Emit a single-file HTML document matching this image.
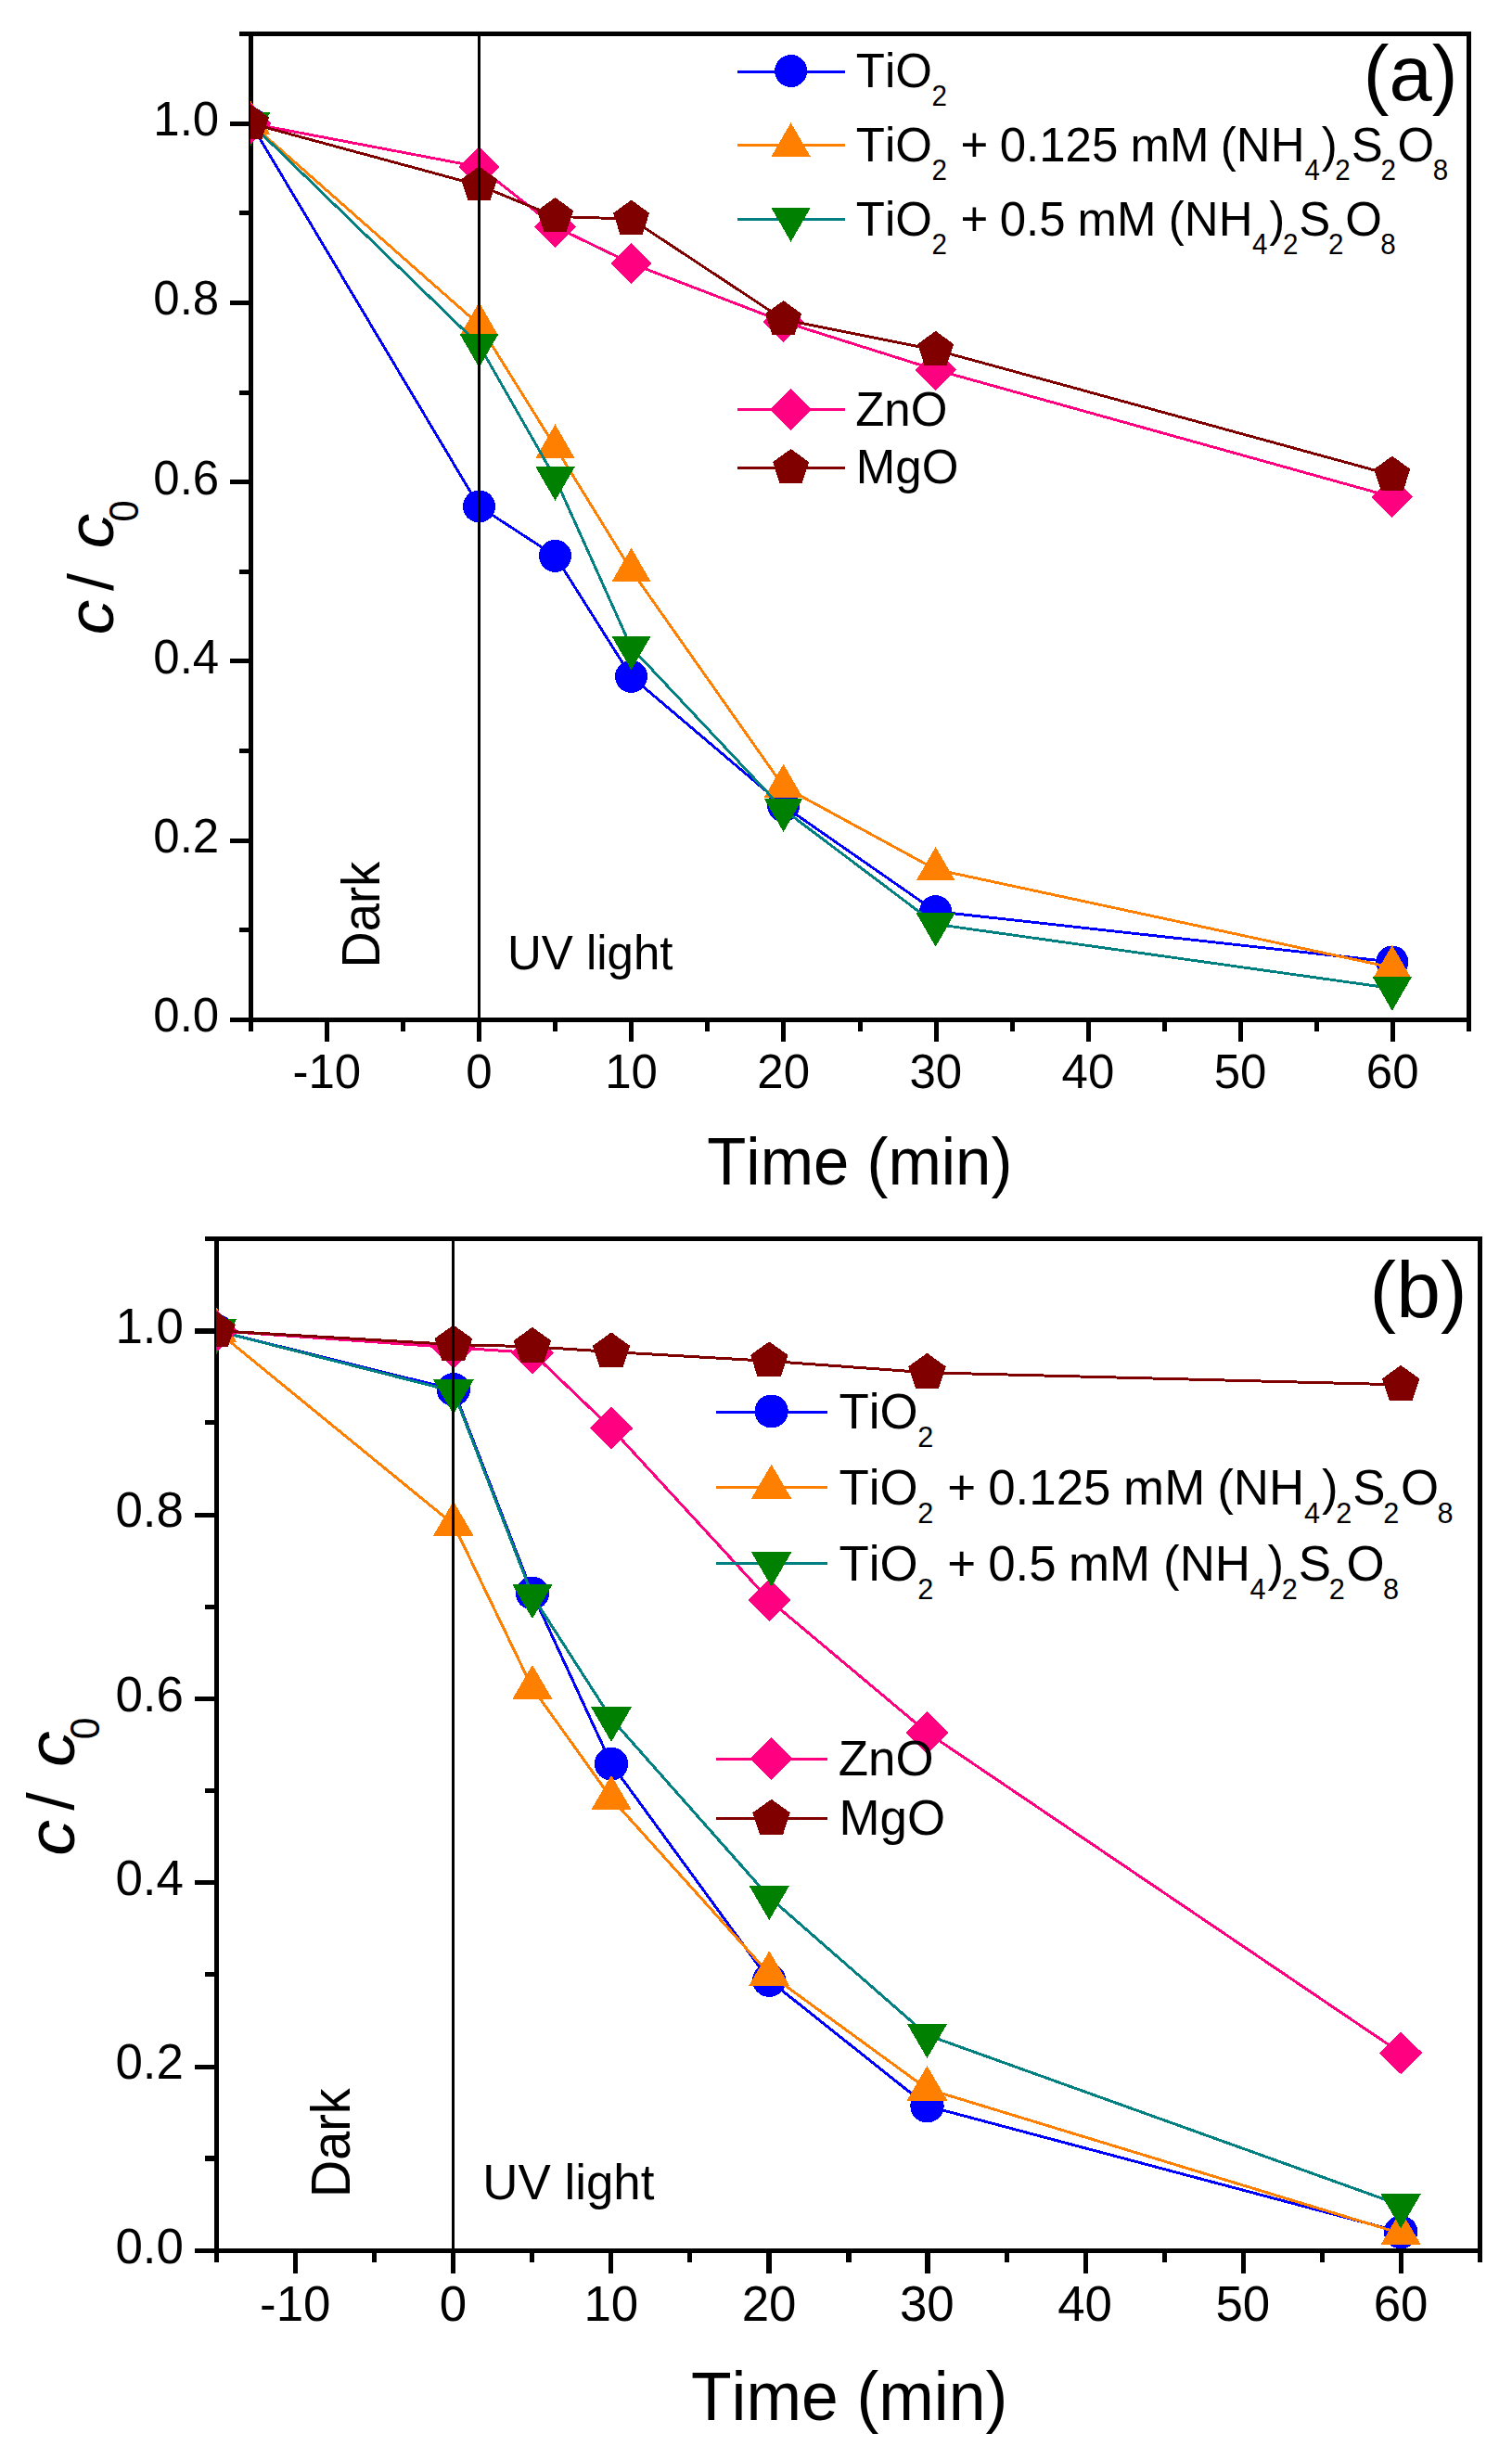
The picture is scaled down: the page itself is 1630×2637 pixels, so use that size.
<!DOCTYPE html>
<html><head><meta charset="utf-8"><title>Photocatalytic degradation</title>
<style>
html,body{margin:0;padding:0;background:#fff}
svg{display:block}
text{font-family:"Liberation Sans", sans-serif;fill:#000;font-kerning:none;font-variant-ligatures:none}
</style></head><body>
<svg width="1630" height="2637" viewBox="0 0 1630 2637" shape-rendering="crispEdges">
<rect width="1630" height="2637" fill="#fff"/>
<g>
<clipPath id="clipA"><rect x="270" y="34" width="1316" height="1068"/></clipPath>
<rect x="270.5" y="36.5" width="1313" height="1063" fill="none" stroke="#000" stroke-width="5.0"/>
<path d="M248 1099.5H270.5M258 1002.5H270.5M248 906.5H270.5M258 809.5H270.5M248 712.5H270.5M258 616.5H270.5M248 519.5H270.5M258 423.5H270.5M248 326.5H270.5M258 229.5H270.5M248 133.5H270.5M258 36.5H270.5M270.5 1099.5V1112M352.5 1099.5V1123M434.5 1099.5V1112M516.5 1099.5V1123M598.5 1099.5V1112M680.5 1099.5V1123M762.5 1099.5V1112M844.5 1099.5V1123M927.5 1099.5V1112M1009.5 1099.5V1123M1091.5 1099.5V1112M1173.5 1099.5V1123M1255.5 1099.5V1112M1337.5 1099.5V1123M1419.5 1099.5V1112M1501.5 1099.5V1123M1583.5 1099.5V1112" stroke="#000" stroke-width="5.0" fill="none"/>
<g clip-path="url(#clipA)">
<polyline fill="none" stroke="#0000ff" stroke-width="2.9" stroke-linejoin="round" points="270.42,133.1 516.5,545.95 598.52,599.39 680.55,729.37 844.6,868.63 1008.65,982.66 1500.8,1037.07"/>
<circle cx="270.42" cy="133.1" r="17.5" fill="#0000ff"/>
<circle cx="516.5" cy="545.95" r="17.5" fill="#0000ff"/>
<circle cx="598.52" cy="599.39" r="17.5" fill="#0000ff"/>
<circle cx="680.55" cy="729.37" r="17.5" fill="#0000ff"/>
<circle cx="844.6" cy="868.63" r="17.5" fill="#0000ff"/>
<circle cx="1008.65" cy="982.66" r="17.5" fill="#0000ff"/>
<circle cx="1500.8" cy="1037.07" r="17.5" fill="#0000ff"/>
<polyline fill="none" stroke="#ff8000" stroke-width="2.9" stroke-linejoin="round" points="270.42,133.1 516.5,350.06 598.52,481.68 680.55,614.85 844.6,847.95 1008.65,937.34 1500.8,1043.16"/>
<polygon points="270.42,108.8 249.38,145.25 291.47,145.25" fill="#ff8000"/>
<polygon points="516.5,325.76 495.46,362.21 537.54,362.21" fill="#ff8000"/>
<polygon points="598.52,457.38 577.48,493.83 619.57,493.83" fill="#ff8000"/>
<polygon points="680.55,590.55 659.51,627 701.59,627" fill="#ff8000"/>
<polygon points="844.6,823.65 823.56,860.1 865.64,860.1" fill="#ff8000"/>
<polygon points="1008.65,913.04 987.61,949.49 1029.69,949.49" fill="#ff8000"/>
<polygon points="1500.8,1018.86 1479.76,1055.31 1521.84,1055.31" fill="#ff8000"/>
<polyline fill="none" stroke="#008080" stroke-width="2.9" stroke-linejoin="round" points="270.42,133.1 516.5,371.9 598.52,515.6 680.55,698.06 844.6,872.69 1008.65,996.39 1500.8,1065.48"/>
<polygon points="270.42,157.4 249.38,120.95 291.47,120.95" fill="#008000"/>
<polygon points="516.5,396.2 495.46,359.75 537.54,359.75" fill="#008000"/>
<polygon points="598.52,539.9 577.48,503.45 619.57,503.45" fill="#008000"/>
<polygon points="680.55,722.36 659.51,685.91 701.59,685.91" fill="#008000"/>
<polygon points="844.6,896.99 823.56,860.54 865.64,860.54" fill="#008000"/>
<polygon points="1008.65,1020.69 987.61,984.24 1029.69,984.24" fill="#008000"/>
<polygon points="1500.8,1089.78 1479.76,1053.33 1521.84,1053.33" fill="#008000"/>
<polyline fill="none" stroke="#ff0080" stroke-width="2.9" stroke-linejoin="round" points="270.42,133.1 516.5,179.97 598.52,244.43 680.55,284.05 844.6,346.96 1008.65,398.67 1500.8,535.7"/>
<polygon points="270.42,110.8 292.72,133.1 270.42,155.4 248.12,133.1" fill="#ff0080"/>
<polygon points="516.5,157.67 538.8,179.97 516.5,202.27 494.2,179.97" fill="#ff0080"/>
<polygon points="598.52,222.13 620.82,244.43 598.52,266.73 576.23,244.43" fill="#ff0080"/>
<polygon points="680.55,261.75 702.85,284.05 680.55,306.35 658.25,284.05" fill="#ff0080"/>
<polygon points="844.6,324.66 866.9,346.96 844.6,369.26 822.3,346.96" fill="#ff0080"/>
<polygon points="1008.65,376.37 1030.95,398.67 1008.65,420.97 986.35,398.67" fill="#ff0080"/>
<polygon points="1500.8,513.4 1523.1,535.7 1500.8,558 1478.5,535.7" fill="#ff0080"/>
<polyline fill="none" stroke="#800000" stroke-width="2.9" stroke-linejoin="round" points="270.42,133.1 516.5,199.78 598.52,233.41 680.55,236.12 844.6,344.55 1008.65,377.31 1500.8,512.12"/>
<polygon points="270.42,112.6 289.92,126.77 282.47,149.68 258.38,149.68 250.93,126.77" fill="#800000"/>
<polygon points="516.5,179.28 536,193.45 528.55,216.37 504.45,216.37 497,193.45" fill="#800000"/>
<polygon points="598.52,212.91 618.02,227.08 610.57,250 586.48,250 579.03,227.08" fill="#800000"/>
<polygon points="680.55,215.62 700.05,229.78 692.6,252.7 668.5,252.7 661.05,229.78" fill="#800000"/>
<polygon points="844.6,324.05 864.1,338.21 856.65,361.13 832.55,361.13 825.1,338.21" fill="#800000"/>
<polygon points="1008.65,356.81 1028.15,370.97 1020.7,393.89 996.6,393.89 989.15,370.97" fill="#800000"/>
<polygon points="1500.8,491.62 1520.3,505.79 1512.85,528.71 1488.75,528.71 1481.3,505.79" fill="#800000"/>
</g>
<line x1="516.5" y1="36.5" x2="516.5" y2="1099.5" stroke="#000" stroke-width="3"/>
<g font-size="51">
<text x="236.2" y="1112.4" text-anchor="end" transform="matrix(1 0 0 1.028 0 -31.15)">0.0</text>
<text x="236.2" y="919.12" text-anchor="end" transform="matrix(1 0 0 1.028 0 -25.74)">0.2</text>
<text x="236.2" y="725.84" text-anchor="end" transform="matrix(1 0 0 1.028 0 -20.32)">0.4</text>
<text x="236.2" y="532.56" text-anchor="end" transform="matrix(1 0 0 1.028 0 -14.91)">0.6</text>
<text x="236.2" y="339.28" text-anchor="end" transform="matrix(1 0 0 1.028 0 -9.5)">0.8</text>
<text x="236.2" y="146" text-anchor="end" transform="matrix(1 0 0 1.028 0 -4.09)">1.0</text>
<text x="352.27" y="1173.4" text-anchor="middle" transform="matrix(1 0 0 1.028 0 -32.86)">-10</text>
<text x="516.39" y="1173.4" text-anchor="middle" transform="matrix(1 0 0 1.028 0 -32.86)">0</text>
<text x="680.52" y="1173.4" text-anchor="middle" transform="matrix(1 0 0 1.028 0 -32.86)">10</text>
<text x="844.64" y="1173.4" text-anchor="middle" transform="matrix(1 0 0 1.028 0 -32.86)">20</text>
<text x="1008.77" y="1173.4" text-anchor="middle" transform="matrix(1 0 0 1.028 0 -32.86)">30</text>
<text x="1172.89" y="1173.4" text-anchor="middle" transform="matrix(1 0 0 1.028 0 -32.86)">40</text>
<text x="1337.02" y="1173.4" text-anchor="middle" transform="matrix(1 0 0 1.028 0 -32.86)">50</text>
<text x="1501.14" y="1173.4" text-anchor="middle" transform="matrix(1 0 0 1.028 0 -32.86)">60</text>
</g>
<text x="762.3" y="1277.5" font-size="68.9" transform="matrix(1 0 0 1.043 0 -54.93)">Time (min)</text>
<g transform="translate(122.3 0) rotate(-90)"><text transform="translate(-684.6 0) scale(1.08 1)" font-size="70" font-style="italic">c</text><text x="-636.9" y="-0.3" font-size="68.5">/</text><text transform="translate(-591.5 0) scale(1.08 1)" font-size="70" font-style="italic">c</text><text x="-562.5" y="26.2" font-size="41.5" transform="matrix(1 0 0 1.05 0 -1.31)">0</text></g>
<text transform="translate(409.1 1043.4) rotate(-90) scale(1 1.04)" font-size="54.3">Dark</text>
<text x="546.9" y="1045" font-size="51" transform="matrix(1 0 0 1.03 0 -31.35)">UV light</text>
<text x="1469.7" y="108" font-size="83.2">(a)</text>
<line x1="795" y1="77.5" x2="911" y2="77.5" stroke="#0000ff" stroke-width="3"/>
<circle cx="852.6" cy="76.5" r="17.5" fill="#0000ff"/>
<text font-size="51.0" transform="matrix(1 0 0 1.03 0 -2.83)"><tspan x="922.85" y="94.2">TiO</tspan><tspan x="1004.51" y="113.33" font-size="29.6">2</tspan></text>
<line x1="795" y1="156.5" x2="911" y2="156.5" stroke="#ff8000" stroke-width="3"/>
<polygon points="852.6,132.2 831.56,168.65 873.64,168.65" fill="#ff8000"/>
<text font-size="51.0" transform="matrix(1 0 0 1.03 0 -5.22)"><tspan x="922.85" y="174.1">TiO</tspan><tspan x="1004.51" y="193.23" font-size="29.6">2 </tspan><tspan x="1035.51" y="174.1">+ </tspan><tspan x="1077.71" y="174.1">0.125 </tspan><tspan x="1218.41" y="174.1">mM </tspan><tspan x="1315.84" y="174.1">(NH</tspan><tspan x="1406.42" y="193.23" font-size="29.6">4</tspan><tspan x="1424.7" y="174.1">)</tspan><tspan x="1439.31" y="193.23" font-size="29.6">2</tspan><tspan x="1456.78" y="174.1">S</tspan><tspan x="1488.51" y="193.23" font-size="29.6">2</tspan><tspan x="1506.58" y="174.1">O</tspan><tspan x="1544.71" y="193.23" font-size="29.6">8</tspan></text>
<line x1="795" y1="236.4" x2="911" y2="236.4" stroke="#008080" stroke-width="3"/>
<polygon points="852.6,260.7 831.56,224.25 873.64,224.25" fill="#008000"/>
<text font-size="51.0" transform="matrix(1 0 0 1.03 0 -7.62)"><tspan x="922.85" y="254.1">TiO</tspan><tspan x="1004.51" y="273.23" font-size="29.6">2 </tspan><tspan x="1035.51" y="254.1">+ </tspan><tspan x="1077.71" y="254.1">0.5 </tspan><tspan x="1161.41" y="254.1">mM </tspan><tspan x="1259.84" y="254.1">(NH</tspan><tspan x="1350.02" y="273.23" font-size="29.6">4</tspan><tspan x="1368.3" y="254.1">)</tspan><tspan x="1382.91" y="273.23" font-size="29.6">2</tspan><tspan x="1400.38" y="254.1">S</tspan><tspan x="1432.11" y="273.23" font-size="29.6">2</tspan><tspan x="1450.18" y="254.1">O</tspan><tspan x="1488.31" y="273.23" font-size="29.6">8</tspan></text>
<line x1="795" y1="441.5" x2="911" y2="441.5" stroke="#ff0080" stroke-width="3"/>
<polygon points="852.6,419.2 874.9,441.5 852.6,463.8 830.3,441.5" fill="#ff0080"/>
<text font-size="51.0" transform="matrix(1 0 0 1.03 0 -13.78)"><tspan x="922.18" y="459.2">ZnO</tspan></text>
<line x1="795" y1="504.5" x2="911" y2="504.5" stroke="#800000" stroke-width="3"/>
<polygon points="852.6,484 872.1,498.17 864.65,521.08 840.55,521.08 833.1,498.17" fill="#800000"/>
<text font-size="51.0" transform="matrix(1 0 0 1.03 0 -15.63)"><tspan x="922.82" y="521.1">MgO</tspan></text>
</g>
<g transform="matrix(1.03732 0 0 1.02634 -47.095 1298.04)">
<clipPath id="clipB"><rect x="270" y="34" width="1316" height="1068"/></clipPath>
<rect x="270.5" y="36.5" width="1313" height="1063" fill="none" stroke="#000" stroke-width="5.0"/>
<path d="M248 1099.5H270.5M258 1002.5H270.5M248 906.5H270.5M258 809.5H270.5M248 712.5H270.5M258 616.5H270.5M248 519.5H270.5M258 423.5H270.5M248 326.5H270.5M258 229.5H270.5M248 133.5H270.5M258 36.5H270.5M270.5 1099.5V1112M352.5 1099.5V1123M434.5 1099.5V1112M516.5 1099.5V1123M598.5 1099.5V1112M680.5 1099.5V1123M762.5 1099.5V1112M844.5 1099.5V1123M927.5 1099.5V1112M1009.5 1099.5V1123M1091.5 1099.5V1112M1173.5 1099.5V1123M1255.5 1099.5V1112M1337.5 1099.5V1123M1419.5 1099.5V1112M1501.5 1099.5V1123M1583.5 1099.5V1112" stroke="#000" stroke-width="5.0" fill="none"/>
<g clip-path="url(#clipB)">
<polyline fill="none" stroke="#0000ff" stroke-width="2.9" stroke-linejoin="round" points="270.47,133.1 516.62,194.85 598.67,408.81 680.72,588.08 844.82,815.38 1008.92,947.49 1501.22,1079.98"/>
<circle cx="270.47" cy="133.1" r="17.5" fill="#0000ff"/>
<circle cx="516.62" cy="194.85" r="17.5" fill="#0000ff"/>
<circle cx="598.67" cy="408.81" r="17.5" fill="#0000ff"/>
<circle cx="680.72" cy="588.08" r="17.5" fill="#0000ff"/>
<circle cx="844.82" cy="815.38" r="17.5" fill="#0000ff"/>
<circle cx="1008.92" cy="947.49" r="17.5" fill="#0000ff"/>
<circle cx="1501.22" cy="1079.98" r="17.5" fill="#0000ff"/>
<polyline fill="none" stroke="#ff8000" stroke-width="2.9" stroke-linejoin="round" points="270.47,133.1 516.62,336.43 598.67,508.35 680.72,624.22 844.82,808.71 1008.92,929.51 1501.22,1081.33"/>
<polygon points="270.47,108.8 249.43,145.25 291.51,145.25" fill="#ff8000"/>
<polygon points="516.62,312.13 495.58,348.58 537.66,348.58" fill="#ff8000"/>
<polygon points="598.67,484.05 577.63,520.5 619.71,520.5" fill="#ff8000"/>
<polygon points="680.72,599.92 659.68,636.37 701.76,636.37" fill="#ff8000"/>
<polygon points="844.82,784.41 823.78,820.86 865.86,820.86" fill="#ff8000"/>
<polygon points="1008.92,905.21 987.88,941.66 1029.96,941.66" fill="#ff8000"/>
<polygon points="1501.22,1057.03 1480.18,1093.48 1522.26,1093.48" fill="#ff8000"/>
<polyline fill="none" stroke="#008080" stroke-width="2.9" stroke-linejoin="round" points="270.47,133.1 516.62,196.69 598.67,411.33 680.72,540.63 844.82,728.02 1008.92,872.98 1501.22,1051.66"/>
<polygon points="270.47,157.4 249.43,120.95 291.51,120.95" fill="#008000"/>
<polygon points="516.62,220.99 495.58,184.54 537.66,184.54" fill="#008000"/>
<polygon points="598.67,435.63 577.63,399.18 619.71,399.18" fill="#008000"/>
<polygon points="680.72,564.93 659.68,528.48 701.76,528.48" fill="#008000"/>
<polygon points="844.82,752.32 823.78,715.87 865.86,715.87" fill="#008000"/>
<polygon points="1008.92,897.28 987.88,860.83 1029.96,860.83" fill="#008000"/>
<polygon points="1501.22,1075.96 1480.18,1039.51 1522.26,1039.51" fill="#008000"/>
<polyline fill="none" stroke="#ff0080" stroke-width="2.9" stroke-linejoin="round" points="270.47,133.1 516.62,150.79 598.67,156.29 680.72,235.64 844.82,415.97 1008.92,555.13 1501.22,891.72"/>
<polygon points="270.47,110.8 292.77,133.1 270.47,155.4 248.17,133.1" fill="#ff0080"/>
<polygon points="516.62,128.49 538.92,150.79 516.62,173.09 494.32,150.79" fill="#ff0080"/>
<polygon points="598.67,133.99 620.97,156.29 598.67,178.59 576.37,156.29" fill="#ff0080"/>
<polygon points="680.72,213.34 703.02,235.64 680.72,257.94 658.42,235.64" fill="#ff0080"/>
<polygon points="844.82,393.67 867.12,415.97 844.82,438.27 822.52,415.97" fill="#ff0080"/>
<polygon points="1008.92,532.83 1031.22,555.13 1008.92,577.43 986.62,555.13" fill="#ff0080"/>
<polygon points="1501.22,869.42 1523.52,891.72 1501.22,914.02 1478.92,891.72" fill="#ff0080"/>
<polyline fill="none" stroke="#800000" stroke-width="2.9" stroke-linejoin="round" points="270.47,133.1 516.62,147.6 598.67,149.82 680.72,155.33 844.82,164.99 1008.92,177.07 1501.22,189.83"/>
<polygon points="270.47,112.6 289.97,126.77 282.52,149.68 258.42,149.68 250.97,126.77" fill="#800000"/>
<polygon points="516.62,127.1 536.12,141.26 528.67,164.18 504.57,164.18 497.12,141.26" fill="#800000"/>
<polygon points="598.67,129.32 618.17,143.48 610.72,166.4 586.62,166.4 579.17,143.48" fill="#800000"/>
<polygon points="680.72,134.83 700.22,148.99 692.77,171.91 668.67,171.91 661.22,148.99" fill="#800000"/>
<polygon points="844.82,144.49 864.32,158.66 856.87,181.58 832.77,181.58 825.32,158.66" fill="#800000"/>
<polygon points="1008.92,156.57 1028.42,170.74 1020.97,193.66 996.87,193.66 989.42,170.74" fill="#800000"/>
<polygon points="1501.22,169.33 1520.72,183.49 1513.27,206.41 1489.17,206.41 1481.72,183.49" fill="#800000"/>
</g>
<line x1="516.5" y1="36.5" x2="516.5" y2="1099.5" stroke="#000" stroke-width="3"/>
<g font-size="51">
<text x="236.2" y="1112.4" text-anchor="end" transform="matrix(1 0 0 1.028 0 -31.15)">0.0</text>
<text x="236.2" y="919.12" text-anchor="end" transform="matrix(1 0 0 1.028 0 -25.74)">0.2</text>
<text x="236.2" y="725.84" text-anchor="end" transform="matrix(1 0 0 1.028 0 -20.32)">0.4</text>
<text x="236.2" y="532.56" text-anchor="end" transform="matrix(1 0 0 1.028 0 -14.91)">0.6</text>
<text x="236.2" y="339.28" text-anchor="end" transform="matrix(1 0 0 1.028 0 -9.5)">0.8</text>
<text x="236.2" y="146" text-anchor="end" transform="matrix(1 0 0 1.028 0 -4.09)">1.0</text>
<text x="352.27" y="1173.4" text-anchor="middle" transform="matrix(1 0 0 1.028 0 -32.86)">-10</text>
<text x="516.39" y="1173.4" text-anchor="middle" transform="matrix(1 0 0 1.028 0 -32.86)">0</text>
<text x="680.52" y="1173.4" text-anchor="middle" transform="matrix(1 0 0 1.028 0 -32.86)">10</text>
<text x="844.64" y="1173.4" text-anchor="middle" transform="matrix(1 0 0 1.028 0 -32.86)">20</text>
<text x="1008.77" y="1173.4" text-anchor="middle" transform="matrix(1 0 0 1.028 0 -32.86)">30</text>
<text x="1172.89" y="1173.4" text-anchor="middle" transform="matrix(1 0 0 1.028 0 -32.86)">40</text>
<text x="1337.02" y="1173.4" text-anchor="middle" transform="matrix(1 0 0 1.028 0 -32.86)">50</text>
<text x="1501.14" y="1173.4" text-anchor="middle" transform="matrix(1 0 0 1.028 0 -32.86)">60</text>
</g>
<text x="763.5" y="1277.5" font-size="68.9" transform="matrix(1 0 0 1.043 0 -54.93)">Time (min)</text>
<g transform="translate(122.3 0) rotate(-90)"><text transform="translate(-684.6 0) scale(1.08 1)" font-size="70" font-style="italic">c</text><text x="-636.9" y="-0.3" font-size="68.5">/</text><text transform="translate(-591.5 0) scale(1.08 1)" font-size="70" font-style="italic">c</text><text x="-562.5" y="26.2" font-size="41.5" transform="matrix(1 0 0 1.05 0 -1.31)">0</text></g>
<text transform="translate(409.1 1043.4) rotate(-90) scale(1 1.04)" font-size="54.3">Dark</text>
<text x="546.9" y="1045" font-size="51" transform="matrix(1 0 0 1.03 0 -31.35)">UV light</text>
<text x="1468.9" y="118.6" font-size="82.8">(b)</text>
<line x1="789.5" y1="218.7" x2="905.5" y2="218.7" stroke="#0000ff" stroke-width="3"/>
<circle cx="847.1" cy="217.7" r="17.5" fill="#0000ff"/>
<text font-size="51.0" transform="matrix(1 0 0 1.03 0 -7.06)"><tspan x="917.35" y="235.4">TiO</tspan><tspan x="999.01" y="254.53" font-size="29.6">2</tspan></text>
<line x1="789.5" y1="297.7" x2="905.5" y2="297.7" stroke="#ff8000" stroke-width="3"/>
<polygon points="847.1,273.4 826.06,309.85 868.14,309.85" fill="#ff8000"/>
<text font-size="51.0" transform="matrix(1 0 0 1.03 0 -9.46)"><tspan x="917.35" y="315.3">TiO</tspan><tspan x="999.01" y="334.43" font-size="29.6">2 </tspan><tspan x="1030.01" y="315.3">+ </tspan><tspan x="1072.21" y="315.3">0.125 </tspan><tspan x="1212.91" y="315.3">mM </tspan><tspan x="1310.34" y="315.3">(NH</tspan><tspan x="1400.92" y="334.43" font-size="29.6">4</tspan><tspan x="1419.2" y="315.3">)</tspan><tspan x="1433.81" y="334.43" font-size="29.6">2</tspan><tspan x="1451.28" y="315.3">S</tspan><tspan x="1483.01" y="334.43" font-size="29.6">2</tspan><tspan x="1501.08" y="315.3">O</tspan><tspan x="1539.21" y="334.43" font-size="29.6">8</tspan></text>
<line x1="789.5" y1="377.6" x2="905.5" y2="377.6" stroke="#008080" stroke-width="3"/>
<polygon points="847.1,401.9 826.06,365.45 868.14,365.45" fill="#008000"/>
<text font-size="51.0" transform="matrix(1 0 0 1.03 0 -11.86)"><tspan x="917.35" y="395.3">TiO</tspan><tspan x="999.01" y="414.43" font-size="29.6">2 </tspan><tspan x="1030.01" y="395.3">+ </tspan><tspan x="1072.21" y="395.3">0.5 </tspan><tspan x="1155.91" y="395.3">mM </tspan><tspan x="1254.34" y="395.3">(NH</tspan><tspan x="1344.52" y="414.43" font-size="29.6">4</tspan><tspan x="1362.8" y="395.3">)</tspan><tspan x="1377.41" y="414.43" font-size="29.6">2</tspan><tspan x="1394.88" y="395.3">S</tspan><tspan x="1426.61" y="414.43" font-size="29.6">2</tspan><tspan x="1444.68" y="395.3">O</tspan><tspan x="1482.81" y="414.43" font-size="29.6">8</tspan></text>
<line x1="789.5" y1="582.7" x2="905.5" y2="582.7" stroke="#ff0080" stroke-width="3"/>
<polygon points="847.1,560.4 869.4,582.7 847.1,605 824.8,582.7" fill="#ff0080"/>
<text font-size="51.0" transform="matrix(1 0 0 1.03 0 -18.01)"><tspan x="916.68" y="600.4">ZnO</tspan></text>
<line x1="789.5" y1="645.7" x2="905.5" y2="645.7" stroke="#800000" stroke-width="3"/>
<polygon points="847.1,625.2 866.6,639.37 859.15,662.28 835.05,662.28 827.6,639.37" fill="#800000"/>
<text font-size="51.0" transform="matrix(1 0 0 1.03 0 -19.87)"><tspan x="917.32" y="662.3">MgO</tspan></text>
</g>
</svg>
</body></html>
